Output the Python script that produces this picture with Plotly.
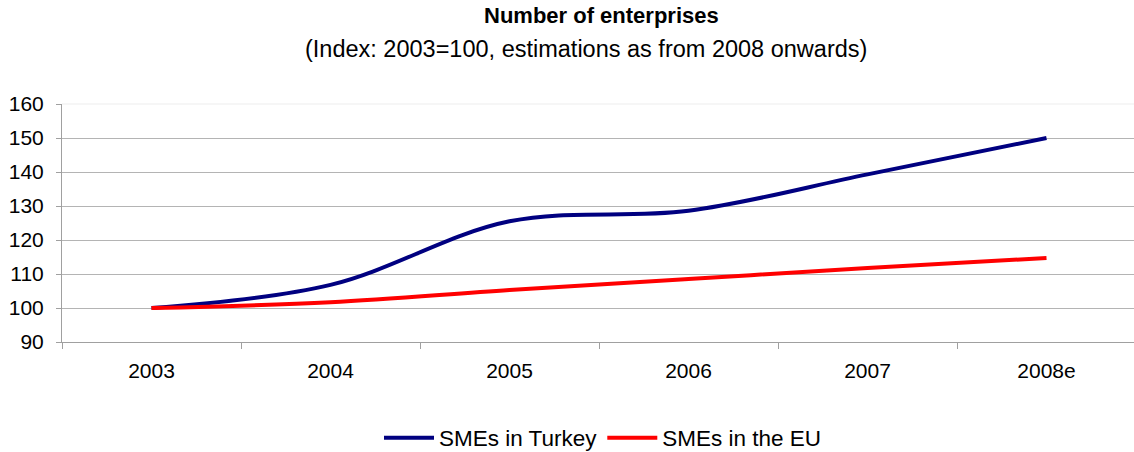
import plotly.graph_objects as go

# Index values (2003 = 100), estimations for 2008
years = ["2003", "2004", "2005", "2006", "2007", "2008e"]
smes_turkey = [100.0, 106.8, 125.5, 128.6, 139.3, 150.0]
smes_eu = [100.0, 101.7, 105.3, 108.5, 111.8, 114.7]
y_ticks = [90, 100, 110, 120, 130, 140, 150, 160]

FONT = "Arial, Liberation Sans, sans-serif"
W, H = 1134, 452
ML, MT, MB = 62, 104, 110
BAND = 179  # pixel width of one category band

plot_w = W - ML
plot_h = H - MT - MB
x_max = -0.5 + plot_w / BAND


def px_to_paper_y(py):
    return (H - MB - py) / plot_h


fig = go.Figure()
fig.add_trace(go.Scatter(
    x=years, y=smes_turkey, name="SMEs in Turkey", mode="lines",
    line=dict(color="#000080", width=4, shape="spline", smoothing=1),
))
fig.add_trace(go.Scatter(
    x=years, y=smes_eu, name="SMEs in the EU", mode="lines",
    line=dict(color="#ff0000", width=4, shape="spline", smoothing=1),
))

fig.update_layout(
    width=W, height=H,
    margin=dict(l=ML, r=0, t=MT, b=MB, pad=0, autoexpand=False),
    paper_bgcolor="white", plot_bgcolor="white",
    font=dict(family=FONT, color="black"),
    showlegend=True,
    legend=dict(
        orientation="h", x=(603 - ML) / plot_w, xanchor="center",
        y=px_to_paper_y(438), yanchor="middle",
        font=dict(size=22.5, family=FONT, color="black"),
        itemwidth=50, tracegroupgap=0,
    ),
    annotations=[
        dict(text="<b>Number of enterprises</b>", xref="paper", yref="paper",
             x=(601.5 - ML) / plot_w, y=px_to_paper_y(15),
             xanchor="center", yanchor="middle", showarrow=False,
             font=dict(size=22, family=FONT, color="black")),
        dict(text="(Index: 2003=100, estimations as from 2008 onwards)",
             xref="paper", yref="paper",
             x=(586 - ML) / plot_w, y=px_to_paper_y(49),
             xanchor="center", yanchor="middle", showarrow=False,
             font=dict(size=23.5, family=FONT, color="black")),
    ],
    shapes=[
        # faint top border of the plot area
        dict(type="line", xref="paper", yref="paper", x0=0, x1=1, y0=1, y1=1,
             line=dict(color="#ededed", width=1), layer="below"),
    ],
)

fig.update_xaxes(
    type="category", range=[-0.5, x_max],
    tickson="boundaries", ticks="outside", ticklen=6, tickcolor="#a0a0a0",
    showline=True, linecolor="#a0a0a0", linewidth=1,
    showgrid=False, zeroline=False,
    tickfont=dict(size=21, family=FONT, color="black"),
    ticklabelstandoff=10,
)
fig.update_yaxes(
    range=[90, 160], tickvals=y_ticks,
    ticks="outside", ticklen=5, tickcolor="#a0a0a0",
    showline=True, linecolor="#a0a0a0", linewidth=1,
    showgrid=True, gridcolor="#b4b4b4", gridwidth=1,
    zeroline=False,
    tickfont=dict(size=21, family=FONT, color="black"),
    ticklabelstandoff=8,
)

fig.write_html("out.html")
